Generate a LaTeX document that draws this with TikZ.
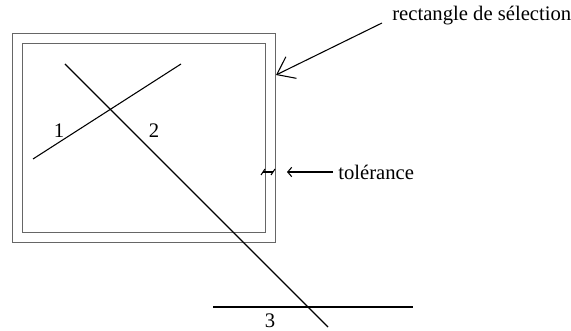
\documentclass[tikz,border=0pt]{standalone}
\usepackage{fontspec}
\setmainfont{Liberation Serif}
\usetikzlibrary{arrows.meta}

\begin{document}
\begin{tikzpicture}[x=0.75pt,y=-0.75pt]
\tikzset{cadre/.style={draw=gray!80!black,line width=0.7pt},
  seg/.style={line width=0.8pt},
  lab/.style={font=\fontsize{15.5}{18}\selectfont,inner sep=0pt},
  fleche/.style={line width=0.8pt,-{Straight Barb[length=12pt,width=18pt]}}}
\useasboundingbox (0,0) rectangle (571,331);

% rectangle de selection et tolerance
\draw[cadre] (12,33) rectangle (275,242);
\draw[cadre] (22,43) rectangle (265,232);

% segments
\coordinate (1a) at (33,159);
\coordinate (1b) at (181,64);
\coordinate (2a) at (65,64);
\coordinate (2b) at (328,327);
\coordinate (3a) at (213,307);
\coordinate (3b) at (413,307);
\draw[seg] (1a)--(1b);
\draw[seg] (2a)--(2b);
\draw[seg] (3a)--(3b);
\node[lab] (n1) at (59,131) {1};
\node[lab] (n2) at (154,131) {2};
\node[lab] (n3) at (270,321) {3};

% legendes
\node[lab,anchor=west] (sel) at (392,16) {rectangle de sélection};
\coordinate (s1) at (382,23);
\coordinate (s2) at (276,75);
\draw[fleche] (s1)--(s2);

\coordinate (t1) at (263,172);
\coordinate (t2) at (273,172);
\draw[seg] (t1)--(t2);
\draw[seg] ([shift={(-2,3)}]t1)--([shift={(2,-3)}]t1);
\draw[seg] ([shift={(-2,3)}]t2)--([shift={(2,-3)}]t2);
\node[lab,anchor=west] (tol) at (338,172) {tolérance};
\coordinate (t3) at (333,172);
\coordinate (t4) at (287,172);
\draw[seg,-{Straight Barb[length=3pt,width=7pt]}] (t3)--(t4);
\end{tikzpicture}
\end{document}
